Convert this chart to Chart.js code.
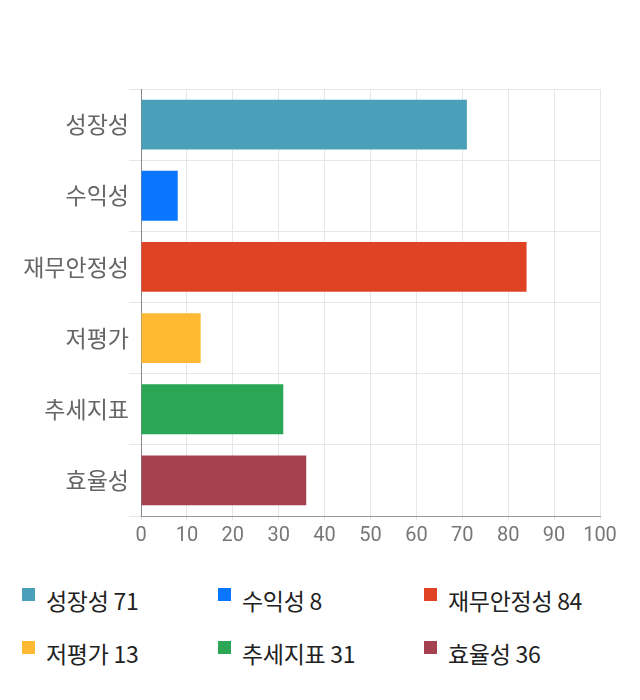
<!DOCTYPE html>
<html>
<head>
<meta charset="utf-8">
<script src="https://cdn.jsdelivr.net/npm/chart.js@4"></script>
<style>
  body { margin: 0; background: #fff; font-family: "Noto Sans CJK KR", "Noto Sans", sans-serif; }
  #wrap { position: relative; width: 640px; height: 552px; }
  #legend { display: grid; grid-template-columns: 196px 206px 216px; padding-left: 22px; row-gap: 21px; margin-top: 32px; }
  .item { display: flex; align-items: flex-start; font-size: 23px; color: #222; line-height: 32px; letter-spacing: -0.3px; }
  .sw { width: 13px; height: 13px; margin-top: 4px; margin-right: 11px; }
</style>
</head>
<body>
<div id="wrap"><canvas id="chart"></canvas></div>
<div id="legend"></div>
<script>
const categories = ['성장성', '수익성', '재무안정성', '저평가', '추세지표', '효율성'];
const values = [71, 8, 84, 13, 31, 36];
const colors = ['#4aa0b9', '#0a76ff', '#e04323', '#ffb933', '#2aa655', '#a4404f'];
const xTicks = [0, 10, 20, 30, 40, 50, 60, 70, 80, 90, 100];

const ctx = document.getElementById('chart').getContext('2d');
const chart = new Chart(ctx, {
  type: 'bar',
  data: {
    labels: categories,
    datasets: [{
      data: values,
      backgroundColor: colors,
      borderWidth: 0,
      categoryPercentage: 0.7,
      barPercentage: 1.0
    }]
  },
  options: {
    indexAxis: 'y',
    responsive: true,
    maintainAspectRatio: false,
    animation: false,
    layout: { padding: { top: 89, right: 40, left: 0, bottom: 0 } },
    plugins: { legend: { display: false }, tooltip: { enabled: false } },
    scales: {
      x: {
        min: 0, max: 100,
        afterBuildTicks: axis => { axis.ticks = xTicks.map(v => ({ value: v })); },
        grid: { color: '#e6e6e6', tickLength: 4 },
        border: { color: '#999' },
        ticks: { color: '#777', font: { size: 20, family: 'Roboto' }, padding: 4 }
      },
      y: {
        afterFit: axis => { axis.width = 141; },
        grid: { color: '#e6e6e6', offset: true, tickLength: 12 },
        border: { color: '#888' },
        ticks: { color: '#666', font: { size: 23, family: 'Noto Sans CJK KR' }, padding: 0 }
      }
    }
  }
});

const legend = document.getElementById('legend');
categories.forEach((c, i) => {
  const d = document.createElement('div');
  d.className = 'item';
  d.innerHTML = '<span class="sw" style="background:' + colors[i] + '"></span><span>' + c + ' ' + values[i] + '</span>';
  legend.appendChild(d);
});
</script>
</body>
</html>
